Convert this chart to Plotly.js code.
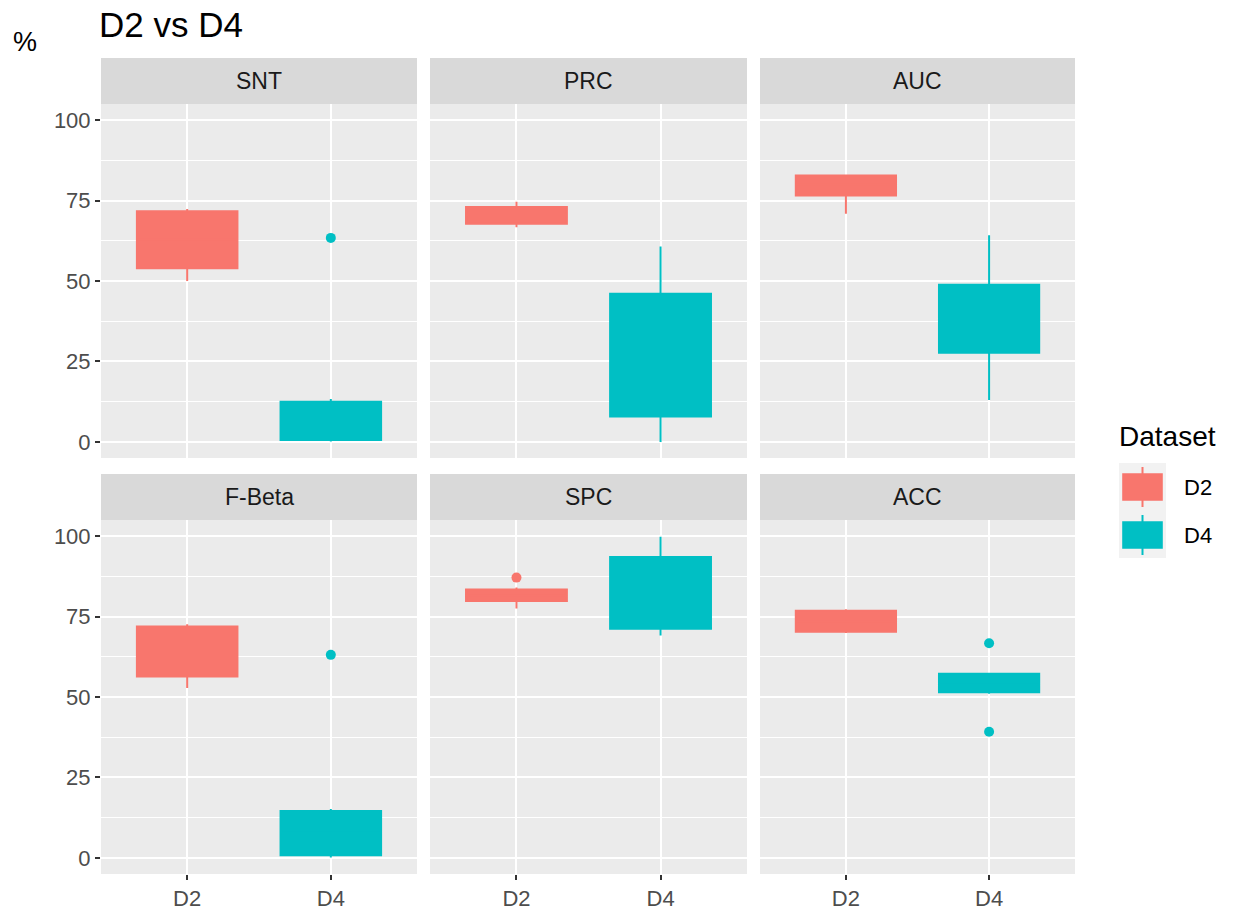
<!DOCTYPE html>
<html>
<head>
<meta charset="utf-8">
<script src="https://cdn.plot.ly/plotly-3.0.1.min.js"></script>
<style>html,body{margin:0;padding:0;background:#fff;}#chart{width:1235px;height:913px;}</style>
</head>
<body>
<div id="chart"></div>
<script>
// ---- data ----
const metrics = ['SNT', 'PRC', 'AUC', 'F-Beta', 'SPC', 'ACC'];
const datasets = ['D2', 'D4'];

const d2Lower  = [50.0, 66.7, 70.9, 52.8, 77.5, 69.9];
const d2Q1     = [54.0, 67.8, 76.6, 56.4, 79.8, 70.3];
const d2Median = [63.0, 70.5, 80.0, 64.0, 81.5, 73.5];
const d2Q3     = [71.7, 73.0, 82.8, 71.9, 83.4, 76.8];
const d2Upper  = [72.4, 74.6, 83.0, 72.6, 84.0, 77.3];
const d2Outliers = [[], [], [], [], [87.1], []];

const d4Lower  = [0.1, 0.0, 13.0, 0.1, 69.1, 51.0];
const d4Q1     = [0.6, 7.9, 27.7, 0.8, 71.2, 51.5];
const d4Median = [6.0, 27.0, 38.0, 8.0, 82.0, 54.0];
const d4Q3     = [12.5, 46.0, 48.8, 14.6, 93.5, 57.2];
const d4Upper  = [13.3, 60.7, 64.2, 15.2, 99.8, 57.2];
const d4Outliers = [[63.4], [], [], [63.1], [], [66.7, 39.2]];

const yTicks = [0, 25, 50, 75, 100];

// ---- styling ----
const colors = {D2: '#F8766D', D4: '#00BFC4'};
const W = 1235, H = 913;
const FONT = 'Liberation Sans, Arial, sans-serif';
const colPx = [[101, 417], [430, 747], [760, 1075]];
const rowPx = [[104, 458], [520, 874]];     // panel top/bottom in px
const stripPx = [[58, 104], [474, 520]];    // strip top/bottom in px

const stats = {
  D2: {lo: d2Lower, q1: d2Q1, med: d2Median, q3: d2Q3, hi: d2Upper, out: d2Outliers},
  D4: {lo: d4Lower, q1: d4Q1, med: d4Median, q3: d4Q3, hi: d4Upper, out: d4Outliers}
};

const traces = [];
const layout = {
  width: W, height: H,
  margin: {l: 0, r: 0, t: 0, b: 0},
  paper_bgcolor: '#FFFFFF',
  plot_bgcolor: '#EBEBEB',
  showlegend: false,
  boxmode: 'overlay',
  title: {text: 'D2 vs D4', x: 99 / W, xanchor: 'left', xref: 'paper', y: 1 - 25 / H, yanchor: 'middle',
          font: {family: FONT, size: 35, color: '#000000'}},
  shapes: [],
  annotations: []
};

metrics.forEach((m, i) => {
  const row = i < 3 ? 0 : 1;
  const col = i % 3;
  const n = i === 0 ? '' : String(i + 1);
  const xa = 'x' + n, ya = 'y' + n;

  layout['xaxis' + n] = {
    domain: [colPx[col][0] / W, colPx[col][1] / W],
    anchor: ya,
    type: 'category',
    categoryorder: 'array',
    categoryarray: datasets,
    range: [-0.6, 1.6],
    showgrid: true, gridcolor: '#FFFFFF', gridwidth: 2,
    zeroline: false, showline: false,
    ticks: row === 1 ? 'outside' : '',
    ticklen: 5, tickwidth: 2, tickcolor: '#333333',
    showticklabels: row === 1,
    tickfont: {family: FONT, size: 22, color: '#4D4D4D'},
    fixedrange: true
  };
  layout['yaxis' + n] = {
    domain: [1 - rowPx[row][1] / H, 1 - rowPx[row][0] / H],
    anchor: xa,
    range: [-5, 105],
    tickmode: 'array', tickvals: yTicks, ticktext: yTicks.map(String),
    showgrid: true, gridcolor: '#FFFFFF', gridwidth: 2,
    minor: {tickmode: 'array', tickvals: [12.5, 37.5, 62.5, 87.5], showgrid: true, gridcolor: '#FFFFFF', gridwidth: 1, ticks: ''},
    zeroline: false, showline: false,
    ticks: col === 0 ? 'outside' : '',
    ticklen: 5, tickwidth: 2, tickcolor: '#333333',
    showticklabels: col === 0,
    tickfont: {family: FONT, size: 22, color: '#4D4D4D'},
    fixedrange: true
  };

  // strip
  layout.shapes.push({type: 'rect', xref: 'paper', yref: 'paper', layer: 'below',
    x0: colPx[col][0] / W, x1: colPx[col][1] / W,
    y0: 1 - stripPx[row][1] / H, y1: 1 - stripPx[row][0] / H,
    fillcolor: '#D9D9D9', line: {width: 0}});
  layout.annotations.push({xref: 'paper', yref: 'paper', showarrow: false,
    x: (colPx[col][0] + colPx[col][1]) / 2 / W, y: 1 - (stripPx[row][0] + stripPx[row][1]) / 2 / H,
    xanchor: 'center', yanchor: 'middle', text: m,
    font: {family: FONT, size: 23, color: '#1A1A1A'}});

  datasets.forEach(d => {
    const s = stats[d];
    traces.push({
      type: 'box', xaxis: xa, yaxis: ya, name: d,
      x: [d], q1: [s.q1[i]], median: [s.med[i]], q3: [s.q3[i]],
      lowerfence: [s.lo[i]], upperfence: [s.hi[i]],
      width: 0.7, whiskerwidth: 0, boxpoints: false,
      fillcolor: colors[d], line: {color: colors[d], width: 2},
      hoverinfo: 'skip', showlegend: false
    });
    if (s.out[i].length) {
      traces.push({
        type: 'scatter', mode: 'markers', xaxis: xa, yaxis: ya,
        x: s.out[i].map(() => d), y: s.out[i],
        marker: {color: colors[d], size: 10, line: {width: 0}},
        hoverinfo: 'skip', showlegend: false
      });
    }
  });
});

// y-axis label "%"
layout.annotations.push({xref: 'paper', yref: 'paper', showarrow: false,
  x: 25 / W, y: 1 - 42 / H, xanchor: 'center', yanchor: 'middle', text: '%',
  font: {family: FONT, size: 27, color: '#000000'}});

// legend (ggplot style)
layout.annotations.push({xref: 'paper', yref: 'paper', showarrow: false,
  x: 1117 / W, y: 1 - 436 / H, xanchor: 'left', yanchor: 'middle', text: 'Dataset',
  font: {family: FONT, size: 28, color: '#000000'}});
layout.shapes.push({type: 'rect', xref: 'paper', yref: 'paper',
  x0: 1119 / W, x1: 1166 / W, y0: 1 - 558 / H, y1: 1 - 463 / H,
  fillcolor: '#F2F2F2', line: {width: 0}});
const keyY = {D2: 487, D4: 535};
datasets.forEach(d => {
  const cy = keyY[d];
  layout.shapes.push({type: 'line', xref: 'paper', yref: 'paper',
    x0: 1142.5 / W, x1: 1142.5 / W, y0: 1 - (cy + 20) / H, y1: 1 - (cy - 20) / H,
    line: {color: colors[d], width: 2}});
  layout.shapes.push({type: 'rect', xref: 'paper', yref: 'paper',
    x0: 1123 / W, x1: 1162 / W, y0: 1 - (cy + 13) / H, y1: 1 - (cy - 13) / H,
    fillcolor: colors[d], line: {color: colors[d], width: 1.6}});
  layout.annotations.push({xref: 'paper', yref: 'paper', showarrow: false,
    x: 1182 / W, y: 1 - cy / H, xanchor: 'left', yanchor: 'middle', text: d,
    font: {family: FONT, size: 22, color: '#000000'}});
});

Plotly.newPlot('chart', traces, layout, {displayModeBar: false, staticPlot: true});
</script>
</body>
</html>
